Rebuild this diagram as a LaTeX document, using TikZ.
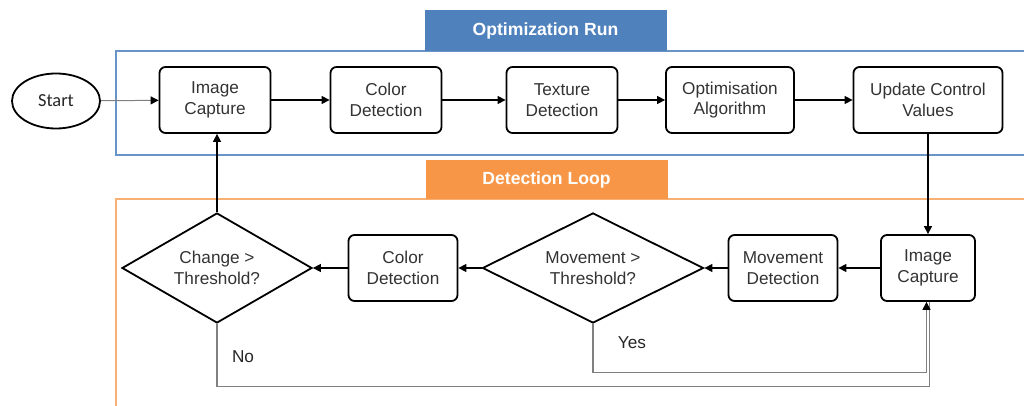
\documentclass[tikz,border=0pt]{standalone}
\usepackage{fontspec}
\setmainfont{Liberation Sans}
\newfontfamily\startfont{Carlito}
\usetikzlibrary{shapes.geometric,arrows.meta}
\definecolor{runblue}{HTML}{4F81BD}
\definecolor{looporange}{HTML}{F79646}
\tikzset{
 proc/.style={draw,rounded corners=3pt,line width=.9pt,align=center,text=black!80,
  font=\fontsize{8.6}{10.4}\selectfont,minimum height=33pt,inner sep=1pt},
 decide/.style={draw,diamond,aspect=2,line width=.9pt,align=center,text=black!80,
  font=\fontsize{8.6}{10.4}\selectfont,inner sep=0pt,minimum height=55pt},
 flow/.style={-{Triangle[length=4pt,width=4pt,color=black]},line width=.7pt},
 back/.style={draw=gray,line width=.6pt},
 tab/.style={text=white,font=\bfseries\fontsize{8.8}{10}\selectfont,
  minimum width=121pt,inner sep=0pt},
 lbl/.style={text=black!85,font=\fontsize{8.6}{10}\selectfont}
}
\begin{document}
\begin{tikzpicture}[x=.5pt,y=-.5pt]
\useasboundingbox (0,0) rectangle (1024,406);
%Rahmen
\draw[runblue!85,line width=.6pt] (116,51) rectangle (1040,155);
\draw[looporange!75,line width=.6pt] (116,199) rectangle (1040,420);
\node[tab,fill=runblue,minimum height=20.5pt] (run) at (545.5,30.5) {Optimization Run};
\node[tab,fill=looporange,minimum height=19.5pt] (loop) at (546.5,179.5) {Detection Loop};
%Knoten oben
\node[draw,ellipse,line width=.9pt,minimum width=44pt,minimum height=27.5pt,
 font=\startfont\fontsize{9.2}{10}\selectfont,text=black!85] (start) at (56,101) {Start};
\node[proc,minimum width=55.5pt] (cap1) at (215,100) {Image\\Capture};
\node[proc,minimum width=55.5pt] (col1) at (386,100) {Color\\Detection};
\node[proc,minimum width=55.5pt] (tex) at (562,100) {Texture\\Detection};
\node[proc,minimum width=64pt] (opt) at (730,100) {Optimisation\\Algorithm};
\node[proc,minimum width=74.5pt] (upd) at (928,100) {Update Control\\Values};
%Knoten unten
\node[decide,minimum width=95pt] (chg) at (217,268) {Change >\\Threshold?};
\node[proc,minimum width=54.5pt] (col2) at (403,268) {Color\\Detection};
\node[decide,minimum width=110.5pt] (mov) at (593,268) {Movement >\\Threshold?};
\node[proc,minimum width=54.5pt] (movd) at (783,268) {Movement\\Detection};
\node[proc,minimum width=47pt] (cap2) at (928,268) {Image\\Capture};
%Pfeile
\draw[flow,draw=gray,line width=.5pt] (start) -- (cap1);
\draw[flow] (cap1) -- (col1);
\draw[flow] (col1) -- (tex);
\draw[flow] (tex) -- (opt);
\draw[flow] (opt) -- (upd);
\draw[flow] (upd) -- (cap2);
\draw[flow] (cap2) -- (movd);
\draw[flow] (movd) -- (mov);
\draw[flow] (mov) -- (col2);
\draw[flow] (col2) -- (chg);
\draw[flow] (chg.north) -- (chg.north |- cap1.south);
%Rueckwege
\draw[back] (chg.south) -- ++(0,63) -| ([xshift=.75pt]cap2.south);
\draw[back,flow,draw=gray,line width=.6pt] (mov.south) -- ++(0,49) -| ([xshift=-.75pt]cap2.south);
\node[lbl] (no) at (243,357) {No};
\node[lbl] (yes) at (632,343) {Yes};
\end{tikzpicture}
\end{document}
